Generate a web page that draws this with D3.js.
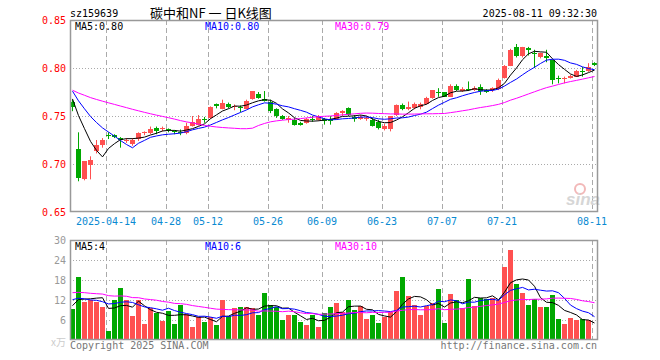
<!DOCTYPE html>
<html><head><meta charset="utf-8">
<script src="https://cdn.jsdelivr.net/npm/d3@7"></script>
<style>html,body{margin:0;padding:0;background:#fff;}svg{display:block;}</style>
</head><body>
<svg id="c" width="660" height="360"></svg>
<script>
const dates = ["04-03","04-07","04-08","04-09","04-10","04-11","04-14","04-15","04-16","04-17","04-18",
"04-21","04-22","04-23","04-24","04-25","04-28","04-29","04-30","05-06","05-07","05-08","05-09",
"05-12","05-13","05-14","05-15","05-16","05-19","05-20","05-21","05-22","05-23",
"05-26","05-27","05-28","05-29","05-30","06-03","06-04","06-05","06-06",
"06-09","06-10","06-11","06-12","06-13","06-16","06-17","06-18","06-19","06-20",
"06-23","06-24","06-25","06-26","06-27","06-30","07-01","07-02","07-03","07-04",
"07-07","07-08","07-09","07-10","07-11","07-14","07-15","07-16","07-17","07-18",
"07-21","07-22","07-23","07-24","07-25","07-28","07-29","07-30","07-31","08-01",
"08-04","08-05","08-06","08-07","08-08","08-11"];
const open  = [0.765,0.716,0.684,0.699,0.714,0.720,0.730,0.730,0.727,0.724,0.721,0.726,0.732,0.732,0.737,0.736,0.736,0.734,0.733,0.732,0.740,0.741,0.747,0.748,0.762,0.757,0.763,0.759,0.759,0.757,0.768,0.773,0.768,0.765,0.757,0.750,0.746,0.746,0.743,0.743,0.747,0.746,0.747,0.747,0.747,0.753,0.758,0.749,0.747,0.747,0.746,0.744,0.736,0.736,0.751,0.761,0.757,0.758,0.759,0.763,0.769,0.775,0.775,0.770,0.781,0.776,0.778,0.777,0.780,0.777,0.777,0.778,0.790,0.802,0.822,0.812,0.821,0.816,0.811,0.812,0.808,0.790,0.789,0.790,0.791,0.797,0.797,0.805];
const high  = [0.767,0.733,0.703,0.708,0.725,0.727,0.733,0.731,0.728,0.727,0.727,0.733,0.734,0.739,0.739,0.739,0.737,0.735,0.736,0.743,0.750,0.751,0.749,0.760,0.763,0.767,0.764,0.762,0.761,0.767,0.776,0.775,0.776,0.767,0.758,0.751,0.750,0.748,0.744,0.748,0.750,0.751,0.748,0.750,0.754,0.756,0.759,0.751,0.751,0.750,0.748,0.746,0.742,0.750,0.762,0.763,0.765,0.764,0.764,0.770,0.777,0.779,0.775,0.783,0.783,0.780,0.786,0.781,0.783,0.778,0.780,0.789,0.803,0.820,0.825,0.822,0.822,0.819,0.816,0.819,0.809,0.792,0.791,0.793,0.798,0.801,0.805,0.806];
const low   = [0.755,0.682,0.683,0.684,0.711,0.717,0.726,0.727,0.717,0.722,0.719,0.724,0.730,0.731,0.731,0.734,0.733,0.731,0.730,0.731,0.739,0.740,0.743,0.747,0.758,0.757,0.758,0.756,0.754,0.757,0.767,0.768,0.765,0.753,0.748,0.746,0.743,0.740,0.740,0.742,0.744,0.745,0.741,0.741,0.746,0.750,0.750,0.744,0.746,0.745,0.739,0.736,0.735,0.734,0.750,0.756,0.756,0.757,0.757,0.762,0.768,0.770,0.770,0.770,0.776,0.775,0.776,0.776,0.772,0.774,0.775,0.777,0.789,0.802,0.811,0.811,0.813,0.800,0.810,0.806,0.783,0.784,0.784,0.789,0.791,0.791,0.796,0.802];
const close = [0.759,0.685,0.703,0.704,0.720,0.725,0.729,0.728,0.725,0.725,0.725,0.732,0.733,0.736,0.734,0.737,0.735,0.733,0.732,0.740,0.744,0.747,0.746,0.759,0.760,0.764,0.759,0.760,0.758,0.766,0.776,0.769,0.766,0.755,0.750,0.747,0.748,0.741,0.741,0.747,0.746,0.750,0.745,0.745,0.753,0.755,0.751,0.747,0.749,0.748,0.740,0.738,0.740,0.750,0.761,0.757,0.759,0.763,0.763,0.769,0.777,0.774,0.770,0.781,0.777,0.778,0.777,0.779,0.776,0.775,0.779,0.788,0.802,0.819,0.812,0.822,0.819,0.815,0.816,0.810,0.788,0.789,0.790,0.792,0.797,0.796,0.801,0.803];
const volume = [9.2,18.8,11.3,12.0,11.5,9.8,2.8,11.9,15.5,11.9,7.1,11.9,4.9,9.6,8.1,5.6,8.8,4.9,10.6,7.9,3.8,6.8,5.3,6.9,4.6,11.9,7.1,9.5,10.0,10.0,9.5,7.4,14.0,10.6,9.9,5.9,7.6,7.6,5.3,4.4,7.6,4.0,8.2,10.0,11.2,8.4,12.1,9.1,10.1,6.4,7.6,5.2,6.8,8.3,14.6,18.8,13.1,10.6,7.6,10.3,11.1,15.2,5.2,13.7,12.1,9.7,18.2,10.3,12.7,12.4,12.7,12.1,21.8,26.9,16.7,14.0,10.6,12.4,9.8,9.8,13.5,6.4,4.9,6.7,6.1,6.4,5.9,0.4];
// estimated closes / volumes before the first visible day (feed the moving averages)
const priorCloses = [0.772,0.774,0.776,0.778,0.779,0.780,0.778,0.776,0.775,0.777,0.779,0.781,0.780,0.778,0.776,0.775,0.777,0.779,0.780,0.776,0.786,0.786,0.784,0.783,0.781,0.772,0.771,0.770,0.767];
const priorVolumes = [16,14,18,15,13,17,16,14,15,19,13,16,15,14,17,15,16,13,14,15,14.5,13.0,15.5,12.5,14.0,9.5,10.8,11.5,10.5];
const tickDates  = ["04-14","04-28","05-12","05-26","06-09","06-23","07-07","07-21","08-11"];
const tickLabels = ["2025-04-14","04-28","05-12","05-26","06-09","06-23","07-07","07-21","08-11"];
const priceTicks = [0.85,0.80,0.75,0.70,0.65];
const volTicks = [30,24,18,12,6];

const RED="#ff5050", GREEN="#00a800";
const MONO="'DejaVu Sans Mono', 'Liberation Mono', monospace";
const svg=d3.select("#c");
const L=70, R=598, PT=20, PB=212, VT=240, VB=340;
const x=d3.scaleLinear().domain([0,dates.length]).range([L,R]);
const y=d3.scaleLinear().domain([0.65,0.85]).range([PB,PT]);
const yv=d3.scaleLinear().domain([0,30]).range([VB,VT]);
const cx=i=>x(i)+2.5;

function ma(arr, prior, n){
  const all=prior.concat(arr);
  return arr.map((d,i)=>{const j=i+prior.length;return d3.mean(all.slice(j-n+1,j+1));});
}

// header
svg.append("text").attr("x",70).attr("y",17).attr("font-family",MONO).attr("font-size",10).attr("fill","#000").text("sz159639");
svg.append("text").attr("x",150).attr("y",18).attr("font-family","'Noto Sans CJK SC',sans-serif").attr("font-size",13).attr("fill","#000").text("碳中和NF 一 日K线图");
svg.append("text").attr("x",597).attr("y",17).attr("text-anchor","end").attr("font-family",MONO).attr("font-size",10).attr("fill","#000").text("2025-08-11 09:32:30");

// gridlines
const gridG=svg.append("g");
tickDates.forEach(t=>{
  const i=dates.indexOf(t); const gx=Math.round(x(i))+0.5;
  [[PT,PB],[VT,VB]].forEach(([a,b])=>gridG.append("line").attr("x1",gx).attr("x2",gx).attr("y1",a).attr("y2",b)
    .attr("stroke","#aaa").attr("stroke-dasharray","5,3"));
});
priceTicks.slice(1,-1).forEach(p=>gridG.append("line").attr("x1",L).attr("x2",R).attr("y1",Math.round(y(p))+0.5).attr("y2",Math.round(y(p))+0.5)
  .attr("stroke","#aaa").attr("stroke-dasharray","1,2"));
volTicks.slice(1).forEach(v=>gridG.append("line").attr("x1",L).attr("x2",R).attr("y1",Math.round(yv(v))+0.5).attr("y2",Math.round(yv(v))+0.5)
  .attr("stroke","#aaa").attr("stroke-dasharray","1,2"));

// watermark
svg.append("circle").attr("cx",580).attr("cy",189).attr("r",5).attr("fill","none").attr("stroke","#f2b8b8").attr("stroke-width",2);
svg.append("text").attr("x",566).attr("y",205).attr("font-family","Arial, 'Liberation Sans', sans-serif").attr("font-style","italic").attr("font-weight","bold")
  .attr("font-size",17).attr("fill","#d6d6d6").text("sina");

// candles
const cg=svg.append("g");
dates.forEach((d,i)=>{
  const up=close[i]>=open[i]; const col=up?RED:GREEN;
  const wx=Math.round(x(i))+2.5;
  cg.append("line").attr("x1",wx).attr("x2",wx).attr("y1",y(high[i])).attr("y2",y(low[i])).attr("stroke",col);
  const top=y(Math.max(open[i],close[i])), bot=y(Math.min(open[i],close[i]));
  cg.append("rect").attr("x",Math.round(x(i))).attr("width",5).attr("y",Math.round(top)).attr("height",Math.max(1,Math.round(bot)-Math.round(top))).attr("fill",col);
  // volume
  const vt=Math.round(yv(volume[i]));
  cg.append("rect").attr("x",Math.round(x(i))).attr("width",5).attr("y",vt).attr("height",Math.max(0,VB-vt)).attr("fill",col);
});

// moving averages
const lines=[[5,"#000"],[10,"#0000ff"],[30,"#ff00ff"]];
lines.forEach(([n,col])=>{
  const m=ma(close,priorCloses,n);
  svg.append("path").attr("d",d3.line().x((d,i)=>cx(i)).y(d=>y(d))(m)).attr("fill","none").attr("stroke",col).attr("stroke-width",1);
  const mv=ma(volume,priorVolumes,n);
  svg.append("path").attr("d",d3.line().x((d,i)=>cx(i)).y(d=>yv(d))(mv)).attr("fill","none").attr("stroke",col).attr("stroke-width",1);
});

// frames
[[PT,PB],[VT,VB]].forEach(([a,b])=>svg.append("rect").attr("x",L+0.5).attr("y",a+0.5).attr("width",R-L-1).attr("height",b-a-1)
  .attr("fill","none").attr("stroke","#999").attr("stroke-width",1.5));

// MA labels
const mc=ma(close,priorCloses,5), m10=ma(close,priorCloses,10), m30=ma(close,priorCloses,30);
const lab=(tx,xx,yy,col)=>svg.append("text").attr("x",xx).attr("y",yy).attr("font-family",MONO).attr("font-size",10).attr("fill",col).text(tx);
lab("MA5:0.80",75,30,"#000"); lab("MA10:0.80",205,30,"#0000ff"); lab("MA30:0.79",335,30,"#ff00ff");
lab("MA5:4",75,250,"#000"); lab("MA10:6",205,250,"#0000ff"); lab("MA30:10",335,250,"#ff00ff");

// axes labels
const yAxis=d3.axisLeft(y).tickValues(priceTicks).tickFormat(d3.format(".2f")).tickSize(0).tickPadding(4);
const ya=svg.append("g").attr("transform",`translate(${L},0)`).call(yAxis);
ya.select(".domain").remove();
ya.selectAll("text").attr("font-family",MONO).attr("font-size",10).attr("fill","#ff0000");
const vAxis=d3.axisLeft(yv).tickValues(volTicks).tickSize(0).tickPadding(4);
const va=svg.append("g").attr("transform",`translate(${L},0)`).call(vAxis);
va.select(".domain").remove();
va.selectAll("text").attr("font-family",MONO).attr("font-size",10).attr("fill","#999");
svg.append("text").attr("x",66).attr("y",346).attr("text-anchor","end").attr("font-family","'Noto Sans CJK SC',sans-serif").attr("font-size",10).attr("fill","#ccc").text("x万");

const xa=svg.append("g").attr("transform",`translate(0,${PB})`)
  .call(d3.axisBottom(x).tickValues(tickDates.map(t=>dates.indexOf(t))).tickFormat((d,k)=>tickLabels[k]).tickSize(0).tickPadding(6));
xa.select(".domain").remove();
xa.selectAll("text").attr("font-family",MONO).attr("font-size",10).attr("fill","#0a8ad2").attr("dx",0);
xa.selectAll(".tick").attr("transform",d=>`translate(${Math.round(x(d))},0)`);

// footer
svg.append("text").attr("x",70).attr("y",349).attr("font-family",MONO).attr("font-size",10).attr("fill","#777").text("Copyright 2025 SINA.COM");
svg.append("text").attr("x",597).attr("y",349).attr("text-anchor","end").attr("font-family",MONO).attr("font-size",10).attr("fill","#777").text("http://finance.sina.com.cn");
</script>
</body></html>
